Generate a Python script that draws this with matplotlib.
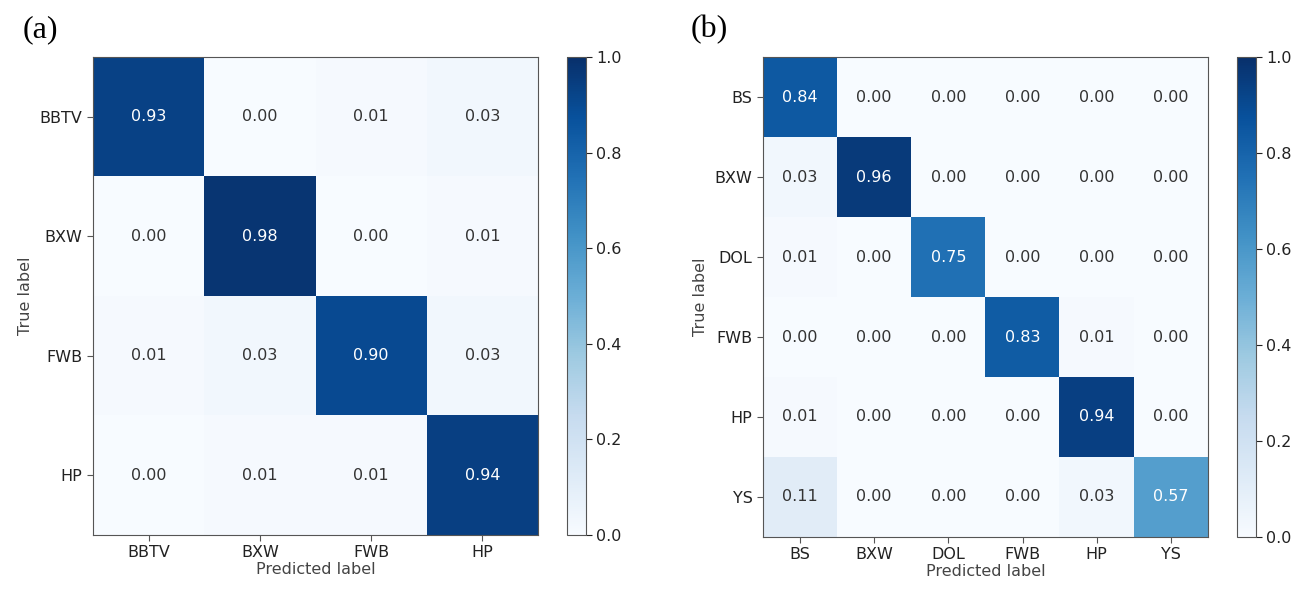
import numpy as np
import matplotlib
matplotlib.use("Agg")
import matplotlib.pyplot as plt

# -----------------------------------------------------------------------------
# Data
# -----------------------------------------------------------------------------
labels_a = ["BBTV", "BXW", "FWB", "HP"]
cm_a = [
    [0.93, 0.00, 0.01, 0.03],
    [0.00, 0.98, 0.00, 0.01],
    [0.01, 0.03, 0.90, 0.03],
    [0.00, 0.01, 0.01, 0.94],
]

labels_b = ["BS", "BXW", "DOL", "FWB", "HP", "YS"]
cm_b = [
    [0.84, 0.00, 0.00, 0.00, 0.00, 0.00],
    [0.03, 0.96, 0.00, 0.00, 0.00, 0.00],
    [0.01, 0.00, 0.75, 0.00, 0.00, 0.00],
    [0.00, 0.00, 0.00, 0.83, 0.01, 0.00],
    [0.01, 0.00, 0.00, 0.00, 0.94, 0.00],
    [0.11, 0.00, 0.00, 0.00, 0.03, 0.57],
]

cbar_ticks = [0.0, 0.2, 0.4, 0.6, 0.8, 1.0]

# -----------------------------------------------------------------------------
# Figure
# -----------------------------------------------------------------------------
fig = plt.figure(figsize=(13.11, 5.89), dpi=100)

panels = [
    ("(a)", labels_a, cm_a, [0.0709, 0.0917, 0.3395, 0.8115], [0.4325, 0.0917, 0.0145, 0.8115], 0.017),
    ("(b)", labels_b, cm_b, [0.5820, 0.0883, 0.3394, 0.8149], [0.9436, 0.0883, 0.0145, 0.8149], 0.527),
]

for tag, labels, cm, ax_pos, cax_pos, x_tag in panels:
    cm = np.array(cm)
    n = len(labels)
    ax = fig.add_axes(ax_pos)
    cax = fig.add_axes(cax_pos)

    im = ax.imshow(cm, cmap="Blues", vmin=0, vmax=1, aspect="auto",
                   interpolation="nearest")

    for i in range(n):
        for j in range(n):
            v = cm[i, j]
            ax.text(j, i, f"{v:.2f}", ha="center", va="center",
                    fontsize=11.5,
                    color="white" if v > 0.5 else "#333333")

    ax.set_xticks(range(n))
    ax.set_yticks(range(n))
    ax.set_xticklabels(labels, fontsize=11.5, color="#222222")
    ax.set_yticklabels(labels, fontsize=11.5, color="#222222")
    ax.set_xlabel("Predicted label", fontsize=11.5, color="#444444", labelpad=1)
    ax.set_ylabel("True label", fontsize=11.5, color="#444444", labelpad=5)
    ax.tick_params(length=4, color="#555555")
    for sp in ax.spines.values():
        sp.set_color("#555555")

    cb = fig.colorbar(im, cax=cax, ticks=cbar_ticks)
    cb.ax.tick_params(labelsize=11.5, length=4, colors="#222222")
    cb.outline.set_edgecolor("#555555")

    fig.text(x_tag, 0.975, tag, ha="left", va="top", fontsize=23,
             family="Liberation Serif")

fig.savefig("out.png", dpi=100)
